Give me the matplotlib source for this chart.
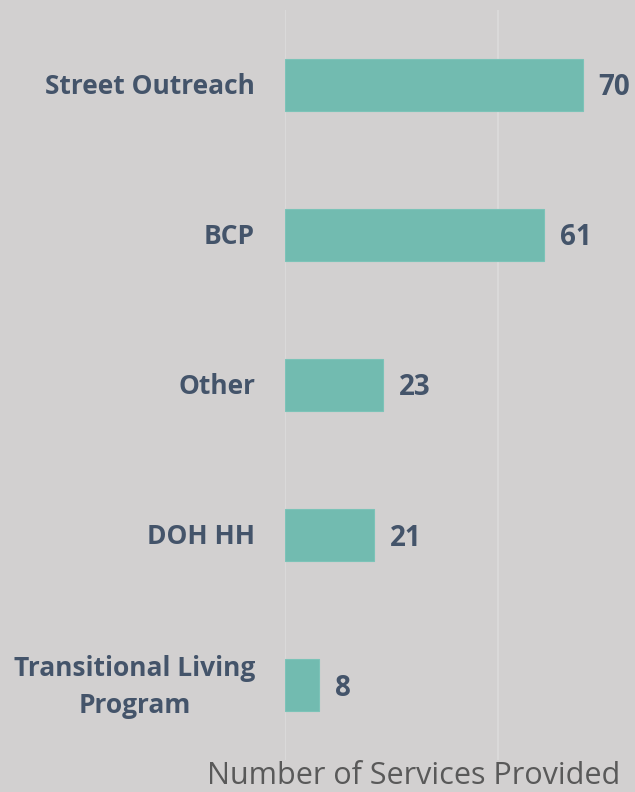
import matplotlib
matplotlib.use("Agg")
import matplotlib.pyplot as plt
from matplotlib.transforms import offset_copy

categories = ["Street Outreach", "BCP", "Other", "DOH HH", "Transitional Living\nProgram"]
values = [70, 61, 23, 21, 8]
xticks = [0, 50]

BG = "#d2d0d0"
BAR = "#72bbb0"
TXT = "#44546a"

fig = plt.figure(figsize=(6.35, 7.92), dpi=100, facecolor=BG)
ax = fig.add_axes([285/635, 1 - 760/792, 1 - 285/635, 750/792])
ax.set_facecolor(BG)

y = list(range(len(categories)))
ax.barh(y, values, height=0.35, color=BAR, edgecolor="#7cc3b8", linewidth=0.8, zorder=3)
ax.set_xlim(0, 82.3)
ax.set_ylim(len(categories) - 0.5, -0.5)
ax.set_xticks(xticks)
ax.grid(axis="x", color="#dcdcdc", linewidth=1.2, zorder=0)
ax.tick_params(axis="x", length=0, labelbottom=False)
ax.tick_params(axis="y", length=0, labelleft=False)
for s in ax.spines.values():
    s.set_visible(False)

for yi, cat in zip(y, categories):
    tr = offset_copy(ax.transData, fig=fig, x=-30, y=-2, units="dots")
    ax.text(0, yi, cat, transform=tr, ha="right", va="center", fontsize=19,
            fontweight="bold", color=TXT, family="Open Sans", linespacing=1.45,
            multialignment="center")

for yi, v in zip(y, values):
    tr = offset_copy(ax.transData, fig=fig, x=16, y=-3, units="dots")
    ax.text(v, yi, str(v), transform=tr, ha="left", va="center", fontsize=20,
            fontweight="bold", color=TXT, family="Open Sans")

fig.text(620/635, 1 - 776/792, "Number of Services Provided", ha="right", va="center",
         fontsize=22, color="#595959", family="Open Sans")

fig.savefig("out.png", dpi=100, facecolor=BG)
